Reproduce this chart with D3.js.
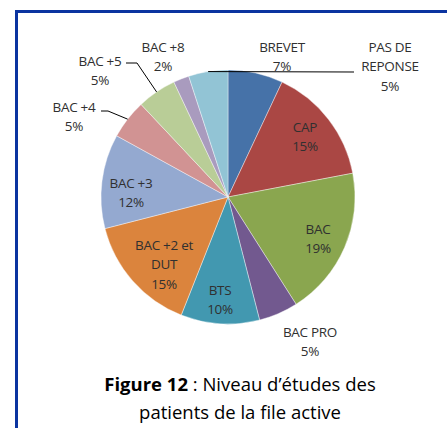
<!DOCTYPE html>
<html>
<head>
<meta charset="utf-8">
<script src="https://cdn.jsdelivr.net/npm/d3@7"></script>
<style>
  body { margin: 0; background: #fff; }
  svg { display: block; }
</style>
</head>
<body>
<svg id="chart" width="447" height="428"></svg>
<script>
// chart data
const categories = ["BREVET", "CAP", "BAC", "BAC PRO", "BTS", "BAC +2 et DUT", "BAC +3", "BAC +4", "BAC +5", "BAC +8", "PAS DE REPONSE"];
const values = [7, 15, 19, 5, 10, 15, 12, 5, 5, 2, 5];
const labelLines = [
  ["BREVET", "7%"], ["CAP", "15%"], ["BAC", "19%"], ["BAC PRO", "5%"], ["BTS", "10%"],
  ["BAC +2 et", "DUT", "15%"], ["BAC +3", "12%"], ["BAC +4", "5%"], ["BAC +5", "5%"],
  ["BAC +8", "2%"], ["PAS DE", "REPONSE", "5%"]
];
const colors = ["#4672A8", "#AA4744", "#8AA64F", "#72598F", "#4298B0", "#DB843D", "#94A9D0", "#D19393", "#B9CD97", "#A99BBE", "#92C4D5"];

const width = 447, height = 428;
const cx = 228, cy = 197, radius = 127;
const font = "'Open Sans', Lato, sans-serif";

// where Excel put each label (center of first line)
const labelPos = {
  "BREVET": [282, 47], "CAP": [305, 127], "BAC": [318, 229], "BAC PRO": [310, 332],
  "BTS": [220, 290], "BAC +2 et DUT": [164, 245], "BAC +3": [131, 183],
  "BAC +4": [74, 107], "BAC +5": [100, 61], "BAC +8": [163, 47], "PAS DE REPONSE": [390, 47]
};
// leader line ends (elbow then label side)
const leaders = {
  "BAC +4": [[108, 111], [101, 111]],
  "BAC +5": [[137, 63], [126, 63]],
  "PAS DE REPONSE": [[354, 72]]
};

const svg = d3.select("#chart");

// frame
svg.append("line").attr("x1", 15).attr("x2", width).attr("y1", 11.5).attr("y2", 11.5)
  .attr("stroke", "#0B34A0").attr("stroke-width", 3);
svg.append("line").attr("x1", 16.5).attr("x2", 16.5).attr("y1", 10).attr("y2", height)
  .attr("stroke", "#0B34A0").attr("stroke-width", 3);

const pie = d3.pie().sort(null).value(d => d.value);
const arc = d3.arc().innerRadius(0).outerRadius(radius);
const data = categories.map((c, i) => ({ name: c, value: values[i], lines: labelLines[i], color: colors[i] }));
const arcs = pie(data);

const g = svg.append("g").attr("transform", `translate(${cx},${cy})`);
g.selectAll("path")
  .data(arcs)
  .enter().append("path")
    .attr("d", arc)
    .attr("fill", d => d.data.color)
    .attr("stroke", "#fff")
    .attr("stroke-width", 0.4);

// leader lines
arcs.filter(d => leaders[d.data.name]).forEach(d => {
  const a = (d.startAngle + d.endAngle) / 2;
  const start = [cx + radius * Math.sin(a), cy - radius * Math.cos(a)];
  svg.append("path")
    .attr("d", d3.line()([start, ...leaders[d.data.name]]))
    .attr("fill", "none")
    .attr("stroke", "#000")
    .attr("stroke-width", 1);
});

// labels
const labels = svg.append("g")
  .style("font-family", font)
  .style("font-size", "13.5px")
  .style("letter-spacing", "-0.3px")
  .attr("fill", "#303030")
  .attr("text-anchor", "middle");

data.forEach(d => {
  const [x, y] = labelPos[d.name];
  const t = labels.append("text").attr("x", x).attr("y", y);
  d.lines.forEach((line, i) => {
    t.append("tspan").attr("x", x).attr("y", y + i * 19.5).attr("dy", "0.35em").text(line);
  });
});

// caption
const cap = svg.append("g")
  .style("font-family", font)
  .style("font-size", "18.5px")
  .attr("fill", "#000")
  .attr("text-anchor", "middle");
const c1 = cap.append("text").attr("x", 240).attr("y", 391);
c1.append("tspan").attr("font-weight", "bold").text("Figure 12");
c1.append("tspan").text(" : Niveau d’études des");
cap.append("text").attr("x", 240).attr("y", 419).text("patients de la file active");
</script>
</body>
</html>
